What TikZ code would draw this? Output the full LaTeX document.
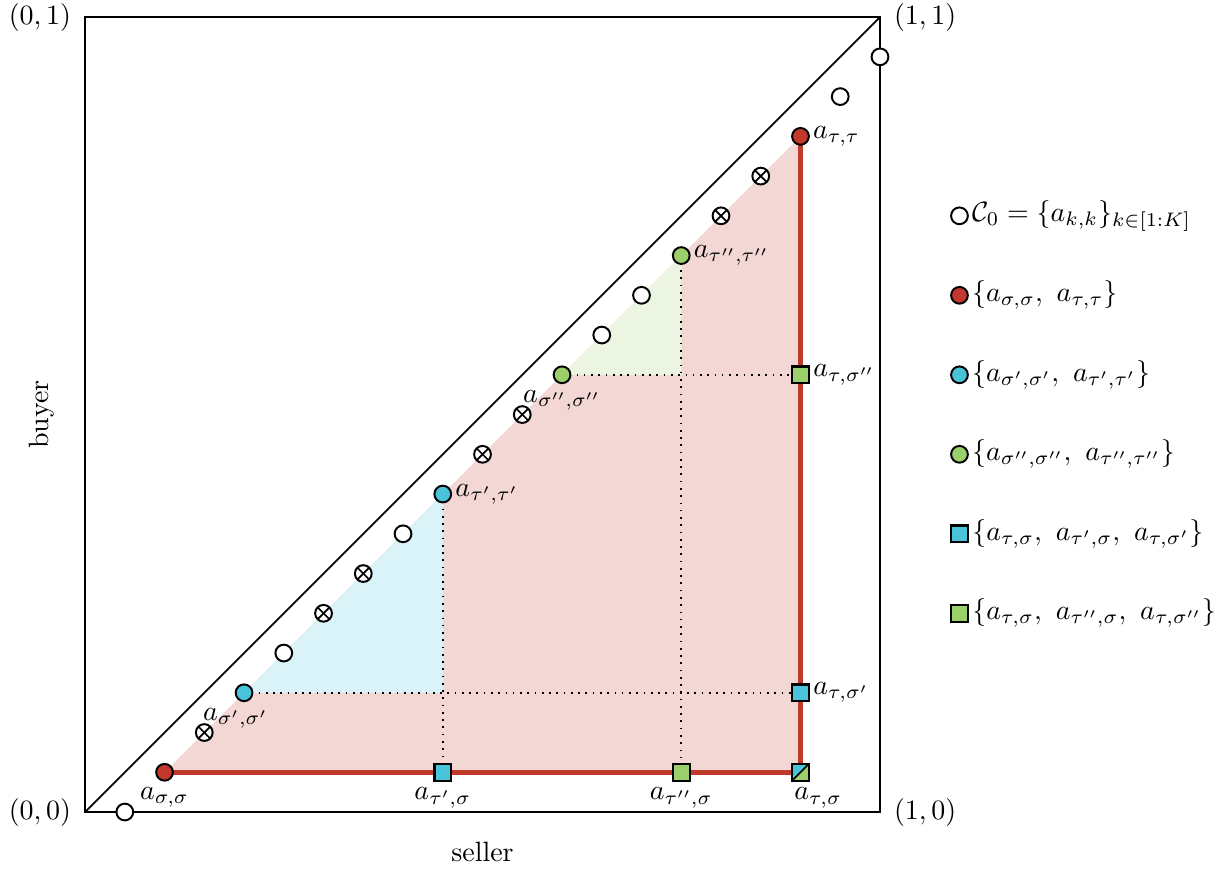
\documentclass[tikz,border=0pt]{standalone}
\usepackage{amsmath}
\usetikzlibrary{positioning, backgrounds}
\definecolor{myred}{HTML}{C0392B}
\definecolor{mycyan}{HTML}{48C3DA}
\definecolor{mygreen}{HTML}{9BCF6A}
\tikzset{
	plainnode/.style={
			shape=circle,
			draw=black,
			line width=0.7pt,
			fill=white,
			minimum size=6pt,
			inner sep=0pt
		},
	rednode/.style={
			plainnode,
			fill=myred
		},
	cyannode/.style={
			plainnode,
			fill=mycyan
		},
	greennode/.style={
			plainnode,
			fill=mygreen
		},
	crossnode/.style={
			plainnode,
			path picture={
					\draw[line width=0.6pt] (path picture bounding box.north west) -- (path picture bounding box.south east);
					\draw[line width=0.6pt] (path picture bounding box.south west) -- (path picture bounding box.north east);
				}
		},
	sqnode/.style={
			shape=rectangle,
			draw=black,
			line width=0.8pt,
			fill=white,
			minimum size=6pt,
			inner sep=0pt
		},
	cyansq/.style={
			sqnode,
			fill=mycyan
		},
	greensq/.style={
			sqnode,
			fill=mygreen
		},
	splitsq/.style={
			sqnode,
			path picture={
					\fill[mycyan] (path picture bounding box.south west) -- (path picture bounding box.north west) -- (path picture bounding box.north east) -- cycle;
					\fill[mygreen] (path picture bounding box.south west) -- (path picture bounding box.south east) -- (path picture bounding box.north east) -- cycle;
					\draw[line width=0.6pt] (path picture bounding box.south west) -- (path picture bounding box.north east);
				}
		},
	labelnode/.style={
			inner sep=1pt
		},
	frameline/.style={
			line width=0.6pt
		},
	redline/.style={
			draw=myred,
			line width=1.6pt
		},
	dotline/.style={
			dotted,
			line width=0.6pt
		}
}

\begin{document}
\begin{tikzpicture}[x=0.5cm, y=0.5cm]

  \useasboundingbox (-2.14,-1.43) rectangle (28.53,20.43);

  \coordinate (c00) at (0,0);
  \coordinate (c10) at (20,0);
  \coordinate (c01) at (0,20);
  \coordinate (c11) at (20,20);

  % points a_{k,k}
  \node[plainnode] (p1) at (1,0) {};
  \node[rednode] (p2) at (2,1) {};
  \node[crossnode] (p3) at (3,2) {};
  \node[cyannode] (p4) at (4,3) {};
  \node[plainnode] (p5) at (5,4) {};
  \node[crossnode] (p6) at (6,5) {};
  \node[crossnode] (p7) at (7,6) {};
  \node[plainnode] (p8) at (8,7) {};
  \node[cyannode] (p9) at (9,8) {};
  \node[crossnode] (p10) at (10,9) {};
  \node[crossnode] (p11) at (11,10) {};
  \node[greennode] (p12) at (12,11) {};
  \node[plainnode] (p13) at (13,12) {};
  \node[plainnode] (p14) at (14,13) {};
  \node[greennode] (p15) at (15,14) {};
  \node[crossnode] (p16) at (16,15) {};
  \node[crossnode] (p17) at (17,16) {};
  \node[rednode] (p18) at (18,17) {};
  \node[plainnode] (p19) at (19,18) {};
  \node[plainnode] (p20) at (20,19) {};

  % squares
  \node[cyansq] (q1) at (9,1) {};
  \node[greensq] (q2) at (15,1) {};
  \node[splitsq] (q3) at (18,1) {};
  \node[cyansq] (q4) at (18,3) {};
  \node[greensq] (q5) at (18,11) {};

  \begin{scope}[on background layer]
    \fill[myred!20] (p2.center) -- (q3.center) -- (p18.center) -- cycle;
    \fill[mycyan!20] (p4.center) -- (p4 -| p9) -- (p9.center) -- cycle;
    \fill[mygreen!20] (p12.center) -- (p12 -| p15) -- (p15.center) -- cycle;
    \draw[dotline] (p4.center) -- (q4.center);
    \draw[dotline] (p12.center) -- (q5.center);
    \draw[dotline] (p9.center) -- (q1.center);
    \draw[dotline] (p15.center) -- (q2.center);
    \draw[redline] (p2.center) -- (q3.center) -- (p18.center);
    \draw[frameline] (c00) rectangle (c11);
    \draw[frameline] (c00) -- (c11);
  \end{scope}

  \node[labelnode, below=1pt of p2] (lp2) {$a_{\sigma,\sigma}$};
  \node[labelnode, below=1pt of p4, xshift=-3pt] (lp4) {$a_{\sigma',\sigma'}$};
  \node[labelnode, right=0pt of p9] (lp9) {$a_{\tau',\tau'}$};
  \node[labelnode, below=1pt of p12] (lp12) {$a_{\sigma'',\sigma''}$};
  \node[labelnode, right=0pt of p15] (lp15) {$a_{\tau'',\tau''}$};
  \node[labelnode, right=0pt of p18] (lp18) {$a_{\tau,\tau}$};

  \node[labelnode, below=1pt of q1] (lq1) {$a_{\tau',\sigma}$};
  \node[labelnode, below=1pt of q2] (lq2) {$a_{\tau'',\sigma}$};
  \node[labelnode, below=1pt of q3.south west, anchor=north west] (lq3) {$a_{\tau,\sigma}$};
  \node[labelnode, right=0pt of q4] (lq4) {$a_{\tau,\sigma'}$};
  \node[labelnode, right=0pt of q5] (lq5) {$a_{\tau,\sigma''}$};

  \node[left=1.5pt of c00] (t00) {$(0,0)$};
  \node[right=1.5pt of c10] (t10) {$(1,0)$};
  \node[left=1.5pt of c01] (t01) {$(0,1)$};
  \node[right=1.5pt of c11] (t11) {$(1,1)$};

  \node (seller) at (10,-1) {seller};
  \node[rotate=90] (buyer) at (-1.08,10) {buyer};

  % legend
  \node[plainnode] (k1) at (22,15) {};
  \node[rednode] (k2) at (22,13) {};
  \node[cyannode] (k3) at (22,11) {};
  \node[greennode] (k4) at (22,9) {};
  \node[cyansq] (k5) at (22,7) {};
  \node[greensq] (k6) at (22,5) {};

  \node[labelnode, right=0pt of k1] (lk1) {$\mathcal{C}_0 = \{a_{k,k}\}_{k\in[1:K]}$};
  \node[labelnode, right=0pt of k2] (lk2) {$\{a_{\sigma,\sigma},\ a_{\tau,\tau}\}$};
  \node[labelnode, right=0pt of k3] (lk3) {$\{a_{\sigma',\sigma'},\ a_{\tau',\tau'}\}$};
  \node[labelnode, right=0pt of k4] (lk4) {$\{a_{\sigma'',\sigma''},\ a_{\tau'',\tau''}\}$};
  \node[labelnode, right=0pt of k5] (lk5) {$\{a_{\tau,\sigma},\ a_{\tau',\sigma},\ a_{\tau,\sigma'}\}$};
  \node[labelnode, right=0pt of k6] (lk6) {$\{a_{\tau,\sigma},\ a_{\tau'',\sigma},\ a_{\tau,\sigma''}\}$};

\end{tikzpicture}
\end{document}
